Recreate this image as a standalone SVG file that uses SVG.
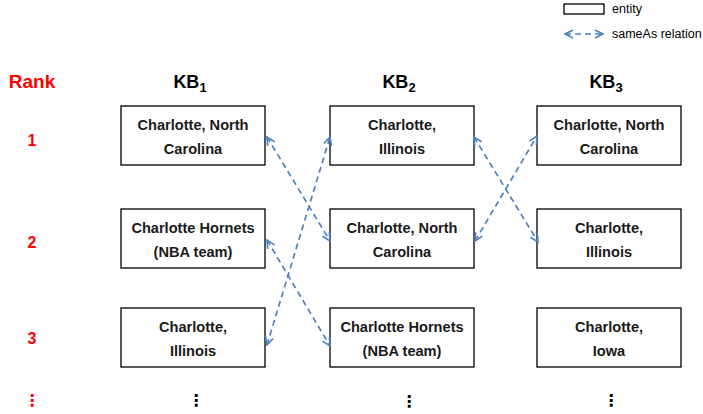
<svg xmlns="http://www.w3.org/2000/svg" width="703" height="414" viewBox="0 0 703 414">
<style>
.box{fill:#fff;stroke:#000;stroke-width:1.3}
.t{font-family:"Liberation Sans",Arial,sans-serif;font-weight:bold;font-size:14.6px;fill:#1a1a1a;text-anchor:middle}
.h{font-family:"Liberation Sans",Arial,sans-serif;font-weight:bold;font-size:18px;fill:#000;text-anchor:middle}
.r{font-family:"Liberation Sans",Arial,sans-serif;font-weight:bold;font-size:16px;fill:#ff0000;text-anchor:middle}
.rk{font-family:"Liberation Sans",Arial,sans-serif;font-weight:bold;font-size:19px;fill:#ff0000;text-anchor:middle}
.lg{font-family:"Liberation Sans",Arial,sans-serif;font-size:12.5px;fill:#000}
.c{fill:none;stroke:#4f81bd;stroke-width:1.7;stroke-dasharray:6,4}
.dot{font-family:"DejaVu Sans",sans-serif;font-weight:bold;font-size:16px;text-anchor:middle}
</style>
<defs>
<marker id="ah" viewBox="0 0 10 10" refX="9" refY="5" markerWidth="10" markerHeight="10" markerUnits="userSpaceOnUse" orient="auto-start-reverse">
<path d="M1,1 L9,5 L1,9" fill="none" stroke="#4f81bd" stroke-width="1.6"/>
</marker>
</defs>
<g id="legend">
<rect x="564" y="4" width="40" height="10" class="box" stroke-width="1"/>
<text x="612" y="13" class="lg">entity</text>
<line x1="565" y1="34" x2="603" y2="34" class="c" marker-start="url(#ah)" marker-end="url(#ah)" stroke-dasharray="7,5"/>
<text x="612" y="38" class="lg">sameAs relation</text>
</g>
<g id="headers">
<text x="32" y="88" class="rk">Rank</text>
<text x="190" y="88" class="h">KB<tspan font-size="13" dy="4">1</tspan></text>
<text x="399" y="88" class="h">KB<tspan font-size="13" dy="4">2</tspan></text>
<text x="606" y="88" class="h">KB<tspan font-size="13" dy="4">3</tspan></text>
<text x="32" y="146" class="r">1</text>
<text x="32" y="248" class="r">2</text>
<text x="32" y="344" class="r">3</text>
</g>
<g id="kb1-1"><rect x="121" y="106" width="144" height="59" class="box"/><text x="193" y="130" class="t">Charlotte, North</text><text x="193" y="154" class="t">Carolina</text></g>
<g id="kb1-2"><rect x="121" y="209" width="144" height="59" class="box"/><text x="193" y="233" class="t">Charlotte Hornets</text><text x="193" y="257" class="t">(NBA team)</text></g>
<g id="kb1-3"><rect x="121" y="308" width="144" height="59" class="box"/><text x="193" y="332" class="t">Charlotte,</text><text x="193" y="356" class="t">Illinois</text></g>
<g id="kb2-1"><rect x="330" y="106" width="144" height="59" class="box"/><text x="402" y="130" class="t">Charlotte,</text><text x="402" y="154" class="t">Illinois</text></g>
<g id="kb2-2"><rect x="330" y="209" width="144" height="59" class="box"/><text x="402" y="233" class="t">Charlotte, North</text><text x="402" y="257" class="t">Carolina</text></g>
<g id="kb2-3"><rect x="330" y="308" width="144" height="59" class="box"/><text x="402" y="332" class="t">Charlotte Hornets</text><text x="402" y="356" class="t">(NBA team)</text></g>
<g id="kb3-1"><rect x="537" y="106" width="144" height="59" class="box"/><text x="609" y="130" class="t">Charlotte, North</text><text x="609" y="154" class="t">Carolina</text></g>
<g id="kb3-2"><rect x="537" y="209" width="144" height="59" class="box"/><text x="609" y="233" class="t">Charlotte,</text><text x="609" y="257" class="t">Illinois</text></g>
<g id="kb3-3"><rect x="537" y="308" width="144" height="59" class="box"/><text x="609" y="332" class="t">Charlotte,</text><text x="609" y="356" class="t">Iowa</text></g>
<g id="connectors">
<line x1="267" y1="137" x2="330" y2="241" class="c" marker-start="url(#ah)" marker-end="url(#ah)"/>
<line x1="267" y1="345" x2="330" y2="137" class="c" marker-start="url(#ah)" marker-end="url(#ah)"/>
<line x1="267" y1="240" x2="330" y2="346" class="c" marker-start="url(#ah)" marker-end="url(#ah)"/>
<line x1="474" y1="137" x2="538" y2="242" class="c" marker-start="url(#ah)" marker-end="url(#ah)"/>
<line x1="475" y1="241" x2="537" y2="136" class="c" marker-start="url(#ah)" marker-end="url(#ah)"/>
</g>
<g id="ellipses">
<text x="32" y="406" class="dot" fill="#ff0000">⋮</text>
<text x="196" y="406" class="dot" fill="#000">⋮</text>
<text x="409" y="407" class="dot" fill="#000">⋮</text>
<text x="611" y="406" class="dot" fill="#000">⋮</text>
</g>
</svg>
